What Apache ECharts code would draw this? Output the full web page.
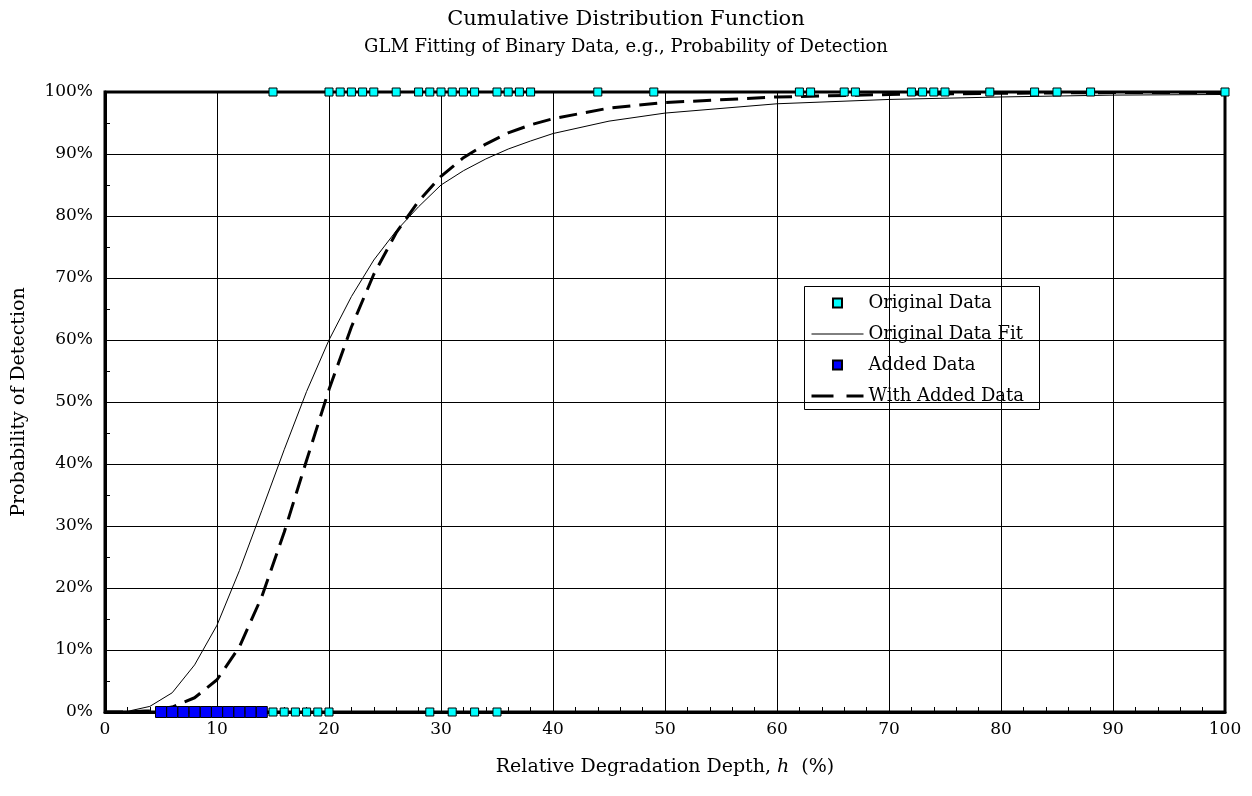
<!DOCTYPE html>
<html>
<head>
<meta charset="utf-8">
<script src="https://cdn.jsdelivr.net/npm/echarts@6/dist/echarts.min.js"></script>
<style>
  html, body { margin: 0; padding: 0; background: #fff; }
  #chart { width: 1252px; height: 796px; }
</style>
</head>
<body>
<div id="chart"></div>
<script>
// Depth values (%) of inspections that detected the flaw (plotted at 100%)
const originalHits = [15, 20, 21, 22, 23, 24, 26, 28, 29, 30, 31, 32, 33, 35, 36, 37, 38,
  44, 49, 62, 63, 66, 67, 72, 73, 74, 75, 79, 83, 85, 88, 100];
// Depth values (%) of inspections that missed the flaw (plotted at 0%)
const originalMisses = [15, 16, 17, 18, 19, 20, 29, 31, 33, 35];
// Additional misses included in the second fit
const addedMisses = [5, 6, 7, 8, 9, 10, 11, 12, 13, 14];

// Fitted probability-of-detection curves (%)
const fitDepth = [0, 2, 4, 6, 8, 10, 12, 14, 16, 18, 20, 22, 24, 26, 28, 30, 32, 34, 36, 38, 40,
  45, 50, 60, 70, 80, 90, 100];
const originalFit = [0, 0.1, 0.9, 3.1, 7.6, 14.0, 22.8, 32.5, 42.3, 51.7, 60.0, 67.0, 72.9, 77.6,
  81.5, 85.0, 87.3, 89.2, 90.8, 92.1, 93.3, 95.3, 96.6, 98.1, 98.8, 99.2, 99.5, 99.6];
const withAddedFit = [0, 0.0, 0.2, 0.8, 2.3, 5.2, 10.5, 18.6, 29.0, 40.6, 52.0, 62.1, 70.6, 77.3,
  82.4, 86.4, 89.4, 91.6, 93.4, 94.7, 95.7, 97.4, 98.3, 99.2, 99.6, 99.8, 99.9, 99.9];

const xTicks = [0, 10, 20, 30, 40, 50, 60, 70, 80, 90, 100];

const FONT = 'DejaVu Serif';
const SQUARE = 'path://M0,0L10,0L10,10L0,10Z';
// legend entries for the curves show only their line, no centre marker
const LINE_ONLY = { color: 'rgba(0,0,0,0)', borderWidth: 0 };

const pairs = (xs, ys) => xs.map((x, i) => [x, ys[i]]);
const atLevel = (xs, level) => xs.map(x => [x, level]);

const chart = echarts.init(document.getElementById('chart'), null, { renderer: 'canvas' });

chart.setOption({
  animation: false,
  backgroundColor: '#ffffff',
  textStyle: { fontFamily: FONT, color: '#000' },
  title: [
    {
      text: 'Cumulative Distribution Function',
      left: 'center', top: 4,
      textStyle: { fontFamily: FONT, fontSize: 21, fontWeight: 'normal', color: '#000' }
    },
    {
      text: 'GLM Fitting of Binary Data, e.g., Probability of Detection',
      left: 'center', top: 33,
      textStyle: { fontFamily: FONT, fontSize: 18, fontWeight: 'normal', color: '#000' }
    }
  ],
  grid: {
    left: 105, right: 27, top: 92, bottom: 84,
    outerBoundsMode: 'none', containLabel: false,
    show: true, borderColor: '#000', borderWidth: 3, backgroundColor: 'transparent'
  },
  legend: {
    orient: 'vertical',
    left: 810, top: 292, padding: 0,
    itemWidth: 52, itemHeight: 9, itemGap: 9,
    textStyle: { fontFamily: FONT, fontSize: 18, color: '#000', lineHeight: 22 },
    symbolKeepAspect: true,
    data: [
      { name: 'Original Data', icon: SQUARE },
      { name: 'Original Data Fit', itemStyle: LINE_ONLY, lineStyle: { color: '#000', width: 1 } },
      { name: 'Added Data', icon: SQUARE },
      { name: 'With Added Data', itemStyle: LINE_ONLY,
        lineStyle: { color: '#000', width: 3, type: [22, 13] } }
    ]
  },
  graphic: [
    {
      type: 'rect', z: -1, silent: true,
      shape: { x: 804.5, y: 286.5, width: 235, height: 123 },
      style: { fill: '#fff', stroke: '#000', lineWidth: 1 }
    }
  ],
  xAxis: {
    type: 'value', min: 0, max: 100, interval: 10,
    name: '{t|Relative Degradation Depth, }{i|h}{t|  (%)}',
    nameLocation: 'middle', nameGap: 46,
    nameTextStyle: {
      rich: {
        t: { fontFamily: FONT, fontSize: 19, color: '#000' },
        i: { fontFamily: FONT, fontSize: 19, fontStyle: 'italic', color: '#000' }
      }
    },
    axisLine: { show: true, lineStyle: { color: '#000', width: 3 } },
    axisTick: { show: true, inside: true, length: 5, lineStyle: { color: '#000', width: 1 } },
    minorTick: { show: true, splitNumber: 5, length: 5, lineStyle: { color: '#000', width: 1 } },
    splitLine: { show: true, lineStyle: { color: '#000', width: 1 } },
    axisLabel: {
      margin: 9, fontFamily: FONT, fontSize: 17, color: '#000',
      formatter: v => (xTicks.includes(v) ? String(v) : '')
    }
  },
  yAxis: {
    type: 'value', min: 0, max: 100, interval: 10,
    name: 'Probability of Detection',
    nameLocation: 'middle', nameGap: 76, nameRotate: 90,
    nameTextStyle: { fontFamily: FONT, fontSize: 19, color: '#000' },
    axisLine: { show: true, lineStyle: { color: '#000', width: 3 } },
    axisTick: { show: true, inside: true, length: 5, lineStyle: { color: '#000', width: 1 } },
    minorTick: { show: true, splitNumber: 2, length: 5, lineStyle: { color: '#000', width: 1 } },
    splitLine: { show: true, lineStyle: { color: '#000', width: 1 } },
    axisLabel: {
      margin: 12, fontFamily: FONT, fontSize: 17, color: '#000',
      formatter: '{value}%'
    }
  },
  series: [
    {
      name: 'Original Data Fit',
      type: 'line',
      data: pairs(fitDepth, originalFit),
      symbol: 'none',
      z: 3,
      lineStyle: { color: '#000', width: 1 },
      itemStyle: { color: '#000' }
    },
    {
      name: 'With Added Data',
      type: 'line',
      data: pairs(fitDepth, withAddedFit),
      symbol: 'none',
      z: 4,
      lineStyle: { color: '#000', width: 3, type: [18, 9] },
      itemStyle: { color: '#000' }
    },
    {
      name: 'Original Data',
      type: 'scatter',
      data: atLevel(originalHits, 100).concat(atLevel(originalMisses, 0)),
      symbol: 'rect',
      symbolSize: 8,
      z: 6,
      clip: false,
      itemStyle: { color: '#00ffff', borderColor: '#000', borderWidth: 1, opacity: 1 }
    },
    {
      name: 'Added Data',
      type: 'scatter',
      data: atLevel(addedMisses, 0),
      symbol: 'rect',
      symbolSize: 11,
      z: 5,
      clip: false,
      itemStyle: { color: '#0000ff', borderColor: '#000', borderWidth: 1, opacity: 1 }
    }
  ]
});
</script>
</body>
</html>
